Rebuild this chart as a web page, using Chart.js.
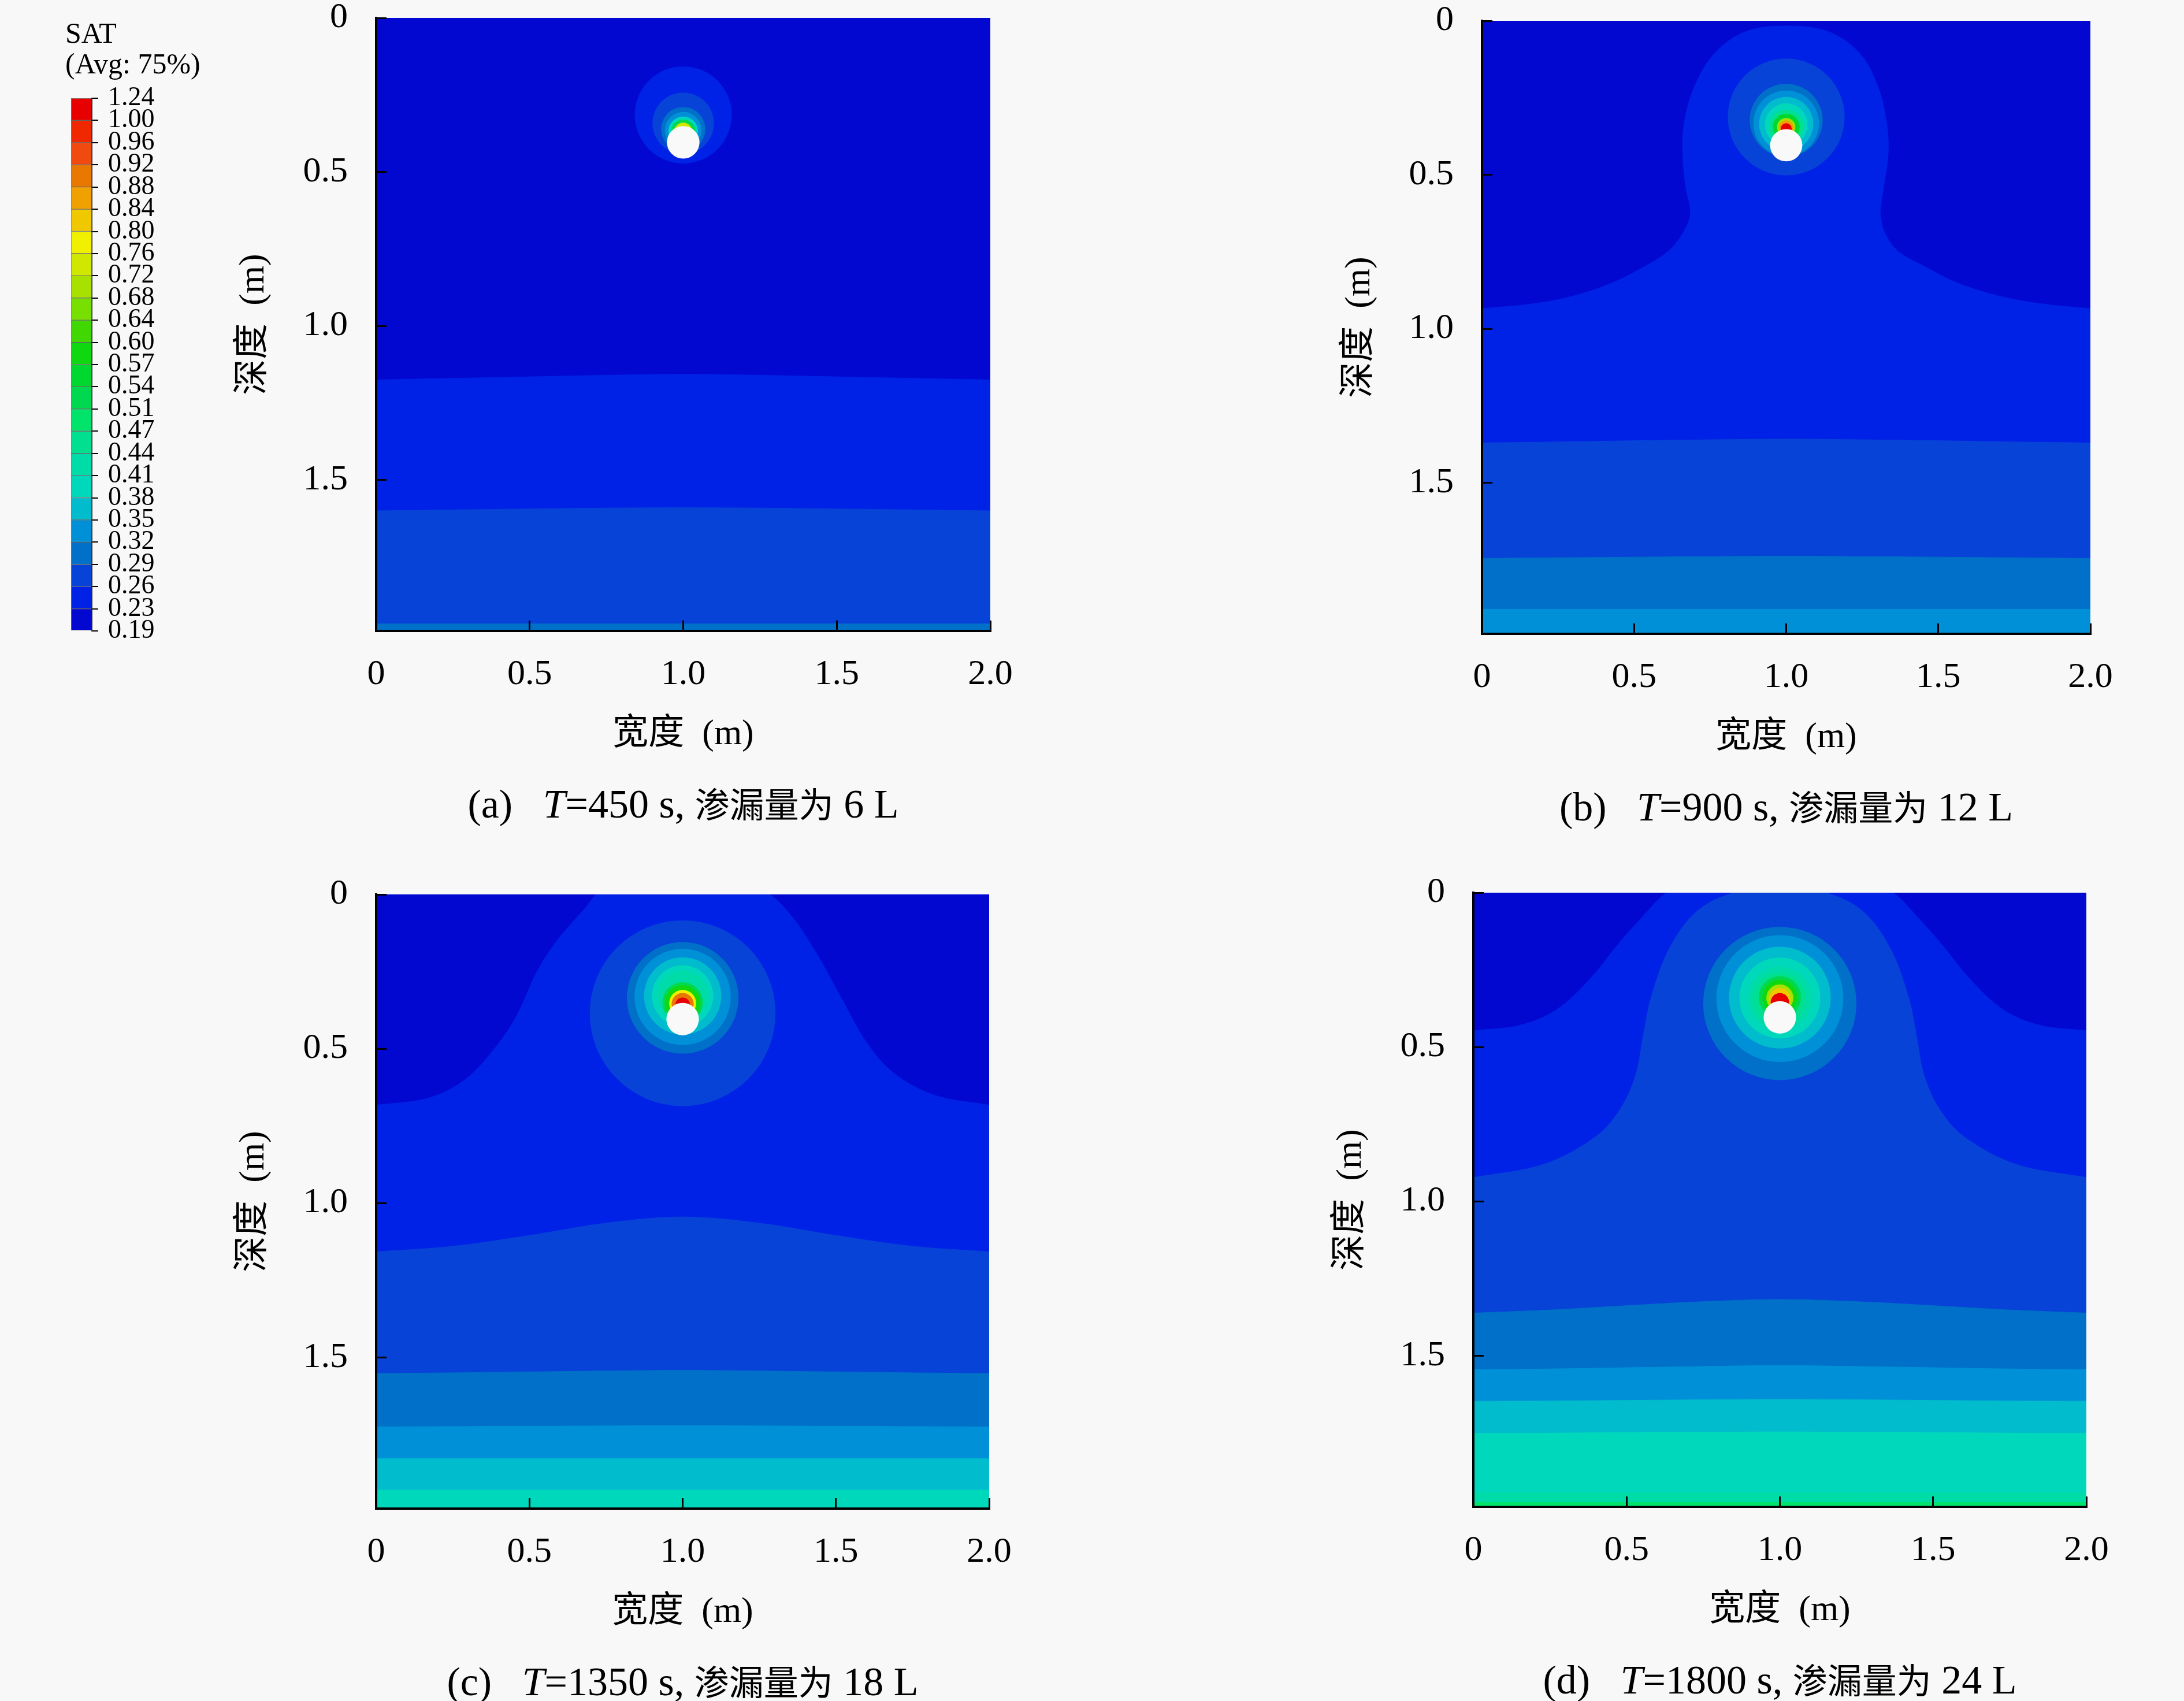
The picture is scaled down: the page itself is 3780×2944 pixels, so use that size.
<!DOCTYPE html>
<html>
<head>
<meta charset="utf-8">
<script src="https://cdn.jsdelivr.net/npm/chart.js@4.4.1/dist/chart.umd.min.js"></script>
<style>
  html, body { margin: 0; padding: 0; background: #f8f8f8; }
  body { width: 3780px; height: 2944px; position: relative; overflow: hidden; }
  canvas { position: absolute; }
  .cap { position: absolute; text-align: center; color: #000; white-space: pre;
         font-family: "Liberation Serif", "Noto Sans CJK SC", serif; font-size: 70px; line-height: 76px; }
  .cap .cjk { font-family: "Noto Sans CJK SC", sans-serif; font-size: 60px; }
</style>
</head>
<body>
<canvas id="bar"></canvas>
<canvas id="pa"></canvas>
<canvas id="pb"></canvas>
<canvas id="pc"></canvas>
<canvas id="pd"></canvas>
<script>
// SAT legend levels, bottom to top (24 bands)
const satLevels = ['0.19', '0.23', '0.26', '0.29', '0.32', '0.35', '0.38', '0.41', '0.44', '0.47', '0.51', '0.54', '0.57',
                   '0.60', '0.64', '0.68', '0.72', '0.76', '0.80', '0.84', '0.88', '0.92', '0.96', '1.00', '1.24'];
const bandColors = ['#0208d0', '#0022e6', '#0843d8', '#0070c8', '#0090d8', '#00bccc', '#00d8bc', '#00dca8',
                    '#00e090', '#00e46c', '#00d850', '#00d830', '#10d810', '#40d800', '#78e000', '#a8e000',
                    '#d0e800', '#f0f000', '#f0c800', '#f0a000', '#e87800', '#f04a10', '#f02800', '#e80000'];
const holeColor = '#f9f9f9';

// axis ticks
const xTickVals = [0, 0.5, 1.0, 1.5, 2.0];
const xTickLabels = ['0', '0.5', '1.0', '1.5', '2.0'];
const yTickVals = [0, 0.5, 1.0, 1.5];
const yTickLabels = ['0', '0.5', '1.0', '1.5'];

const xFlat = [0, 0.25, 0.5, 0.75, 1.0, 1.25, 1.5, 1.75, 2.0];

// pipe (leak hole)
const pipeX = [1.0];
const pipeY = [0.404];
const pipeR = [0.053];

// (a) T=450 s
const aFront1 = [1.175, 1.17, 1.165, 1.16, 1.157, 1.16, 1.165, 1.17, 1.175];
const aFront2 = [1.60, 1.597, 1.594, 1.591, 1.59, 1.591, 1.594, 1.597, 1.60];
const aFront3 = [1.967, 1.967, 1.967, 1.967, 1.967, 1.967, 1.967, 1.967, 1.967];
const aRingX = [1.0, 1.0, 1.0, 1.0, 1.0, 1.0, 1.0];
const aRingY = [0.315, 0.342, 0.361, 0.365, 0.368, 0.37, 0.37];
const aRingR = [0.158, 0.10, 0.072, 0.060, 0.048, 0.040, 0.030];
const aRingBand = [1, 2, 3, 4, 6, 10, 16];

// (b) T=900 s
const bBellX = [0, 0.157, 0.29, 0.43, 0.53, 0.61, 0.66, 0.685, 0.67, 0.66, 0.665, 0.70, 0.766, 0.867, 1.0,
                1.138, 1.24, 1.30, 1.33, 1.335, 1.32, 1.31, 1.325, 1.37, 1.46, 1.56, 1.71, 1.85, 2.0];
const bBellY = [0.934, 0.92, 0.896, 0.85, 0.80, 0.75, 0.69, 0.625, 0.54, 0.435, 0.33, 0.21, 0.104, 0.035, 0.017,
                0.035, 0.104, 0.21, 0.33, 0.435, 0.54, 0.625, 0.69, 0.75, 0.80, 0.85, 0.896, 0.92, 0.934];
const bFront2 = [1.37, 1.367, 1.363, 1.36, 1.358, 1.36, 1.363, 1.367, 1.37];
const bFront3 = [1.745, 1.743, 1.741, 1.739, 1.738, 1.739, 1.741, 1.743, 1.745];
const bFront4 = [1.91, 1.91, 1.91, 1.91, 1.91, 1.91, 1.91, 1.91, 1.91];
const bRingX = [1.0, 1.0, 1.0, 1.0, 1.0, 1.0, 1.0, 1.0, 1.0, 1.0];
const bRingY = [0.312, 0.323, 0.333, 0.335, 0.337, 0.345, 0.345, 0.345, 0.347, 0.35];
const bRingR = [0.192, 0.12, 0.108, 0.089, 0.07, 0.057, 0.044, 0.030, 0.024, 0.018];
const bRingBand = [2, 3, 4, 5, 6, 8, 11, 15, 19, 23];

// (c) T=1350 s
const cBellX = [0, 0.17, 0.29, 0.39, 0.46, 0.525, 0.59, 0.68, 0.73, 0.85, 1.0,
                1.15, 1.27, 1.35, 1.43, 1.52, 1.60, 1.69, 1.82, 2.0];
const cBellY = [0.683, 0.66, 0.60, 0.495, 0.39, 0.25, 0.15, 0.047, -0.01, -0.06, -0.08,
                -0.06, -0.01, 0.064, 0.18, 0.34, 0.48, 0.58, 0.65, 0.683];
const cFront2 = [1.158, 1.14, 1.105, 1.065, 1.045, 1.065, 1.105, 1.14, 1.158];
const cFront3 = [1.552, 1.55, 1.547, 1.544, 1.542, 1.544, 1.547, 1.55, 1.552];
const cFront4 = [1.725, 1.724, 1.723, 1.722, 1.721, 1.722, 1.723, 1.724, 1.725];
const cFront5 = [1.828, 1.828, 1.828, 1.828, 1.828, 1.828, 1.828, 1.828, 1.828];
const cFront6 = [1.93, 1.93, 1.93, 1.93, 1.93, 1.93, 1.93, 1.93, 1.93];
const cRingX = [1.0, 1.0, 1.0, 1.0, 1.0, 1.0, 1.0, 1.0, 1.0, 1.0, 1.0];
const cRingY = [0.385, 0.335, 0.332, 0.329, 0.329, 0.329, 0.350, 0.352, 0.353, 0.355, 0.358];
const cRingR = [0.303, 0.182, 0.157, 0.126, 0.100, 0.082, 0.066, 0.058, 0.044, 0.036, 0.024];
const cRingBand = [2, 3, 4, 5, 6, 7, 10, 12, 17, 20, 23];

// (d) T=1800 s
const dBell1X = [0, 0.15, 0.27, 0.38, 0.47, 0.55, 0.63, 0.8, 1.0, 1.2, 1.37, 1.45, 1.53, 1.62, 1.73, 1.85, 2.0];
const dBell1Y = [0.447, 0.43, 0.38, 0.28, 0.17, 0.08, 0.0, -0.1, -0.13, -0.1, 0.0, 0.08, 0.17, 0.28, 0.38, 0.43, 0.447];
const dBell2X = [0, 0.23, 0.40, 0.48, 0.53, 0.555, 0.58, 0.64, 0.73, 0.85, 1.0,
                 1.15, 1.27, 1.36, 1.42, 1.445, 1.47, 1.52, 1.60, 1.77, 2.0];
const dBell2Y = [0.923, 0.88, 0.79, 0.70, 0.59, 0.46, 0.34, 0.18, 0.06, 0.0, -0.02,
                 0.0, 0.06, 0.18, 0.34, 0.46, 0.59, 0.70, 0.79, 0.88, 0.923];
const dFront3 = [1.362, 1.352, 1.338, 1.325, 1.318, 1.325, 1.338, 1.352, 1.362];
const dFront4 = [1.545, 1.543, 1.539, 1.535, 1.532, 1.535, 1.539, 1.543, 1.545];
const dFront5 = [1.648, 1.647, 1.645, 1.643, 1.642, 1.643, 1.645, 1.647, 1.648];
const dFront6 = [1.752, 1.751, 1.749, 1.748, 1.747, 1.748, 1.749, 1.751, 1.752];
const dFront7 = [1.944, 1.944, 1.944, 1.944, 1.944, 1.944, 1.944, 1.944, 1.944];
const dFront8 = [1.976, 1.976, 1.976, 1.976, 1.976, 1.976, 1.976, 1.976, 1.976];
const dRingX = [1.0, 1.0, 1.0, 1.0, 1.0, 1.0, 1.0, 1.0, 1.0, 1.0, 1.0];
const dRingY = [0.359, 0.343, 0.340, 0.341, 0.343, 0.343, 0.339, 0.339, 0.341, 0.344, 0.355];
const dRingR = [0.250, 0.207, 0.166, 0.132, 0.104, 0.085, 0.069, 0.057, 0.044, 0.035, 0.030];
const dRingBand = [3, 4, 5, 6, 7, 8, 10, 12, 15, 18, 23];

const captionTags = ['(a)', '(b)', '(c)', '(d)'];
const captionTimes = ['450', '900', '1350', '1800'];
const captionVolumes = ['6', '12', '18', '24'];

Chart.defaults.font.family = '"Liberation Serif", "Noto Sans CJK SC", serif';
Chart.defaults.color = '#000';

// paints the lowest band behind everything in the plot area
const areaFill = {
  id: 'areaFill',
  beforeDatasetsDraw(chart, args, opts) {
    const a = chart.chartArea, ctx = chart.ctx;
    ctx.save();
    ctx.fillStyle = opts.color;
    ctx.fillRect(a.left, a.top, a.right - a.left, a.bottom - a.top);
    ctx.restore();
  }
};

function unitPx(chart) {
  const x = chart.scales.x;
  return Math.abs(x.getPixelForValue(1) - x.getPixelForValue(0));
}
function pts(xs, ys) {
  return ys.map((y, i) => ({x: xs[i], y: y}));
}

const panels = [
  { id: 'pa', rect: [651, 31, 1714, 1092],
    fronts: [[xFlat, aFront1, 1], [xFlat, aFront2, 2], [xFlat, aFront3, 3]],
    rx: aRingX, ry: aRingY, rr: aRingR, rb: aRingBand },
  { id: 'pb', rect: [2565, 36, 3618, 1097],
    fronts: [[bBellX, bBellY, 1], [xFlat, bFront2, 2], [xFlat, bFront3, 3], [xFlat, bFront4, 4]],
    rx: bRingX, ry: bRingY, rr: bRingR, rb: bRingBand },
  { id: 'pc', rect: [651, 1548, 1712, 2611],
    fronts: [[cBellX, cBellY, 1], [xFlat, cFront2, 2], [xFlat, cFront3, 3], [xFlat, cFront4, 4],
             [xFlat, cFront5, 5], [xFlat, cFront6, 6]],
    rx: cRingX, ry: cRingY, rr: cRingR, rb: cRingBand },
  { id: 'pd', rect: [2550, 1545, 3611, 2608],
    fronts: [[dBell1X, dBell1Y, 1], [dBell2X, dBell2Y, 2], [xFlat, dFront3, 3], [xFlat, dFront4, 4],
             [xFlat, dFront5, 5], [xFlat, dFront6, 6], [xFlat, dFront7, 7], [xFlat, dFront8, 9]],
    rx: dRingX, ry: dRingY, rr: dRingR, rb: dRingBand }
];

// room around each plot area inside its canvas
const padL = 290, padT = 112, padR = 110, padB = 230;

panels.forEach(function (p, n) {
  const [L, T, R, B] = p.rect;
  const cv = document.getElementById(p.id);
  cv.width = R - L + padL + padR;
  cv.height = B - T + padT + padB;
  cv.style.left = (L - padL) + 'px';
  cv.style.top = (T - padT) + 'px';

  const datasets = p.fronts.map(function (f, k) {
    const col = bandColors[f[2]];
    return {
      data: pts(f[0], f[1]), showLine: true, fill: 'start', tension: 0.35,
      backgroundColor: col, borderColor: col, borderWidth: 1,
      pointRadius: 0, order: 100 - k, clip: 0
    };
  });
  datasets.push({
    data: pts(p.rx, p.ry),
    pointRadius: c => c.dataIndex == null ? 0 : p.rr[c.dataIndex] * unitPx(c.chart),
    pointBackgroundColor: c => bandColors[p.rb[c.dataIndex] || 0],
    pointBorderWidth: 0, order: 1, clip: 0
  });
  datasets.push({
    data: pts(pipeX, pipeY),
    pointRadius: c => c.dataIndex == null ? 0 : pipeR[c.dataIndex] * unitPx(c.chart),
    pointBackgroundColor: holeColor, pointBorderWidth: 0, order: 0, clip: 0
  });

  new Chart(cv, {
    type: 'scatter',
    data: { datasets: datasets },
    plugins: [areaFill],
    options: {
      responsive: false, animation: false, devicePixelRatio: 1, events: [],
      layout: { padding: { left: 0, top: padT, right: padR, bottom: 0 } },
      plugins: {
        legend: { display: false },
        tooltip: { enabled: false },
        areaFill: { color: bandColors[0] }
      },
      scales: {
        x: {
          type: 'linear', min: 0, max: 2,
          afterFit: s => { s.height = padB; },
          afterBuildTicks: s => { s.ticks = xTickVals.map(v => ({ value: v })); },
          ticks: { autoSkip: false, maxRotation: 0, padding: 57, font: { size: 62 },
                   callback: (v, i) => xTickLabels[i] },
          grid: { drawOnChartArea: false, drawTicks: true, tickLength: -18, color: '#000', lineWidth: 3, z: 1 },
          border: { display: true, color: '#000', width: 4, z: 2 },
          title: { display: true, text: '宽度\u2002(m)', font: { size: 62 }, padding: { top: 0, bottom: 13 } }
        },
        y: {
          type: 'linear', reverse: true, min: 0, max: 1.99,
          afterFit: s => { s.width = padL; },
          afterBuildTicks: s => { s.ticks = yTickVals.map(v => ({ value: v })); },
          ticks: { autoSkip: false, padding: 67, font: { size: 62 },
                   callback: (v, i) => yTickLabels[i] },
          grid: { drawOnChartArea: false, drawTicks: true, tickLength: -18, color: '#000', lineWidth: 3, z: 1 },
          border: { display: true, color: '#000', width: 4, z: 2 },
          title: { display: true, text: '深度\u2002(m)', font: { size: 62 }, padding: { top: 42, bottom: 0 } }
        }
      }
    }
  });

  const cap = document.createElement('div');
  cap.className = 'cap';
  cap.innerHTML = captionTags[n] + '\u2002 <i>T</i>=' + captionTimes[n] + ' s, <span class="cjk">渗漏量为</span> ' +
                  captionVolumes[n] + ' L';
  cap.style.left = (L - 300) + 'px';
  cap.style.width = (R - L + 600) + 'px';
  cap.style.top = (B + 297 - 38) + 'px';
  document.body.appendChild(cap);
});

// colour legend
const cb = document.getElementById('bar');
cb.width = 290;
cb.height = 1150;
cb.style.left = '113px';
cb.style.top = '0px';
new Chart(cb, {
  type: 'bar',
  data: {
    labels: [''],
    datasets: bandColors.map((c, i) => ({
      data: [[i, i + 1]], yAxisID: 'y', backgroundColor: c, borderColor: 'rgba(30,30,30,0.55)', borderWidth: 1,
      borderSkipped: false, grouped: false, barPercentage: 1, categoryPercentage: 1
    }))
  },
  options: {
    responsive: false, animation: false, devicePixelRatio: 1, events: [],
    layout: { padding: { left: 0, right: 0, top: 0, bottom: 58 } },
    plugins: {
      legend: { display: false },
      tooltip: { enabled: false },
      title: { display: true, text: ['SAT', '(Avg: 75%)'], align: 'start',
               font: { size: 50, weight: 'normal', lineHeight: 1.06 }, padding: { top: 34, bottom: 30 } }
    },
    scales: {
      x: { display: false },
      gap: {
        type: 'linear', position: 'left', display: true, min: 0, max: 1,
        afterFit: s => { s.width = 10; },
        ticks: { display: false }, grid: { display: false }, border: { display: false }
      },
      y: {
        position: 'right', min: 0, max: 24,
        afterFit: s => { s.width = 244; },
        afterBuildTicks: s => { s.ticks = satLevels.map((_, i) => ({ value: i })); },
        ticks: { autoSkip: false, padding: 17, font: { size: 46 }, callback: (v, i) => satLevels[i] },
        grid: { drawOnChartArea: false, tickLength: 11, color: '#000', lineWidth: 2 },
        border: { display: true, color: '#333', width: 2 }
      }
    }
  }
});
</script>
</body>
</html>
